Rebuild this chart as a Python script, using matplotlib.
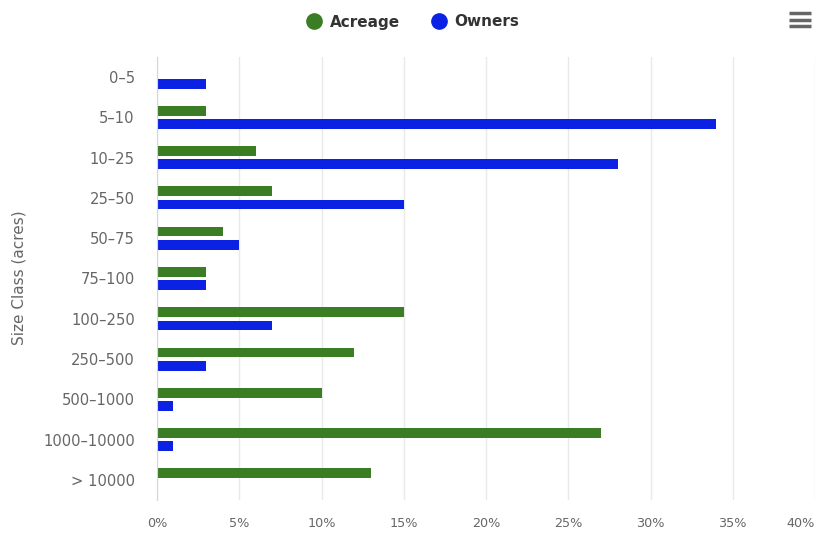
import numpy as np
import matplotlib
matplotlib.use("Agg")
import matplotlib.pyplot as plt
from matplotlib.lines import Line2D

# Chart data (percent of total)
size_classes = ["0–5", "5–10", "10–25", "25–50", "50–75", "75–100",
                "100–250", "250–500", "500–1000", "1000–10000", "> 10000"]
acreage = [0, 3, 6, 7, 4, 3, 15, 12, 10, 27, 13]
owners = [3, 34, 28, 15, 5, 3, 7, 3, 1, 1, 0]
x_ticks = [0, 5, 10, 15, 20, 25, 30, 35, 40]

green = "#3a7d24"
blue = "#0b22e4"
label_col = "#666666"

plt.rcParams["font.family"] = ["DejaVu Sans"]

fig = plt.figure(figsize=(8.17, 5.44), dpi=100)
ax = fig.add_axes([157 / 817, 1 - 500 / 544, 658 / 817, 443 / 544])

y = np.arange(len(size_classes))
bar_h = 0.24
off = 0.165
ax.barh(y - off, acreage, height=bar_h, color=green, zorder=3)
ax.barh(y + off, owners, height=bar_h, color=blue, zorder=3)

ax.set_xlim(0, 40)
ax.set_ylim(len(size_classes) - 0.5, -0.5)
ax.set_yticks(y)
ax.set_yticklabels(size_classes, fontsize=10.6, color=label_col)
ax.set_xticks(x_ticks)
ax.set_xticklabels([f"{t}%" for t in x_ticks], fontsize=9.2, color=label_col)
ax.get_xticklabels()[-1].set_horizontalalignment("right")
ax.tick_params(axis="both", length=0)
ax.tick_params(axis="y", pad=16)
ax.tick_params(axis="x", pad=12)

ax.grid(axis="x", color="#e9e9e9", linewidth=1, zorder=0)
for side in ["top", "right", "bottom"]:
    ax.spines[side].set_visible(False)
ax.spines["left"].set_color("#ccd6eb")
ax.spines["left"].set_zorder(4)

fig.text(19 / 817, 1 - 278 / 544, "Size Class (acres)", rotation=90,
         fontsize=11, color=label_col, ha="center", va="center")

# legend
handles = [Line2D([], [], marker="o", linestyle="", markersize=11, color=green),
           Line2D([], [], marker="o", linestyle="", markersize=11, color=blue)]
leg = fig.legend(handles, ["Acreage", "Owners"], loc="center",
                 bbox_to_anchor=(413 / 817, 1 - 22 / 544), ncol=2, frameon=False,
                 handletextpad=0.55, columnspacing=2.0, handlelength=1.0,
                 prop={"weight": "bold", "size": 11})
for t in leg.get_texts():
    t.set_color("#333333")

# hamburger menu icon
for yy in [13, 19.5, 26]:
    fig.add_artist(Line2D([789 / 817, 811 / 817], [1 - yy / 544, 1 - yy / 544],
                          color="#666666", linewidth=2.5, solid_capstyle="butt"))

fig.savefig("out.png", dpi=100, facecolor="white")
